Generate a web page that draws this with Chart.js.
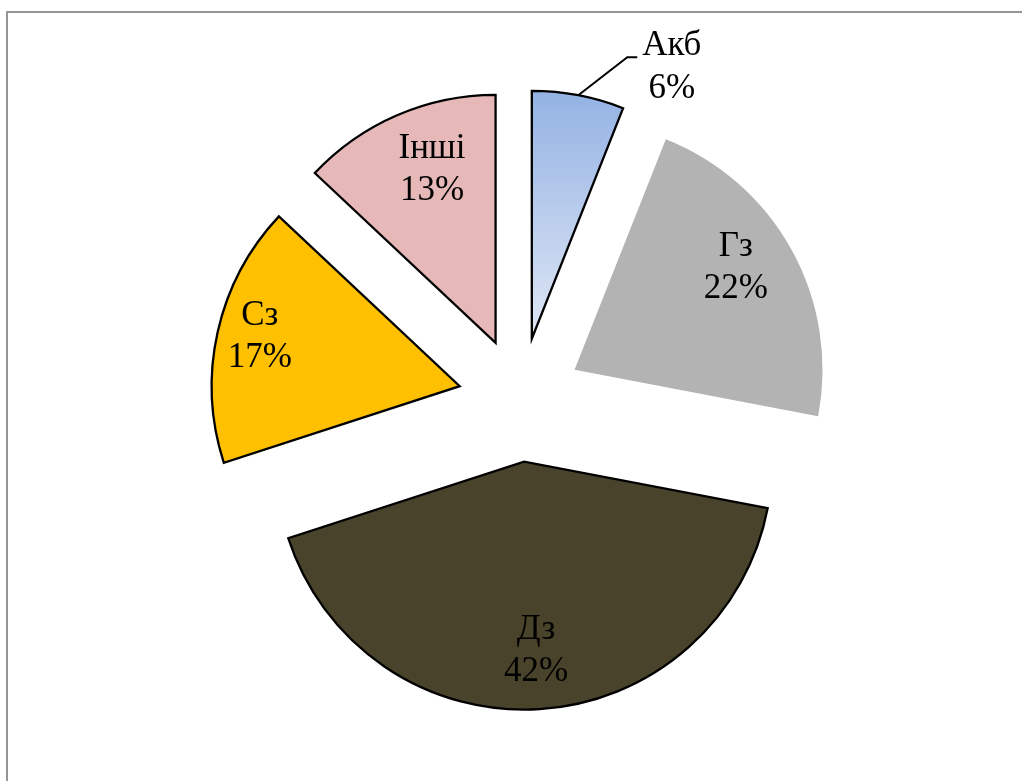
<!DOCTYPE html>
<html lang="uk">
<head>
<meta charset="utf-8">
<title>Структура</title>
<script src="https://cdn.jsdelivr.net/npm/chart.js@4.4.1/dist/chart.umd.min.js"></script>
<style>
  html, body { margin: 0; padding: 0; background: #fff; overflow: hidden; }
  #wrap { position: relative; width: 1022px; height: 781px; }
  #frame { position: absolute; left: 6px; top: 11px; width: 1100px; height: 900px;
           border: 2px solid #959595; box-sizing: border-box; pointer-events: none; }
  canvas { position: absolute; left: 0; top: 0; }
</style>
</head>
<body>
<div id="wrap">
  <canvas id="c" width="1022" height="781"></canvas>
  <div id="frame"></div>
</div>
<script>
// Categories and their shares, in percent
const categories = ['Акб', 'Гз', 'Дз', 'Сз', 'Інші'];
const shares = [6, 22, 42, 17, 13];

// Fill colours per slice (first slice gets a vertical gradient)
const fillColors = ['#9ab6e4', '#b3b3b3', '#4a432b', '#ffc000', '#e6b9b8'];
const gradientStops = ['#93b2e3', '#dfe7f5'];
const borderWidths = [2.3, 0, 2.3, 2.3, 2.3];

const RADIUS = 248;     // pie radius, px
const EXPLODE = 62;     // distance each slice is pulled out, px
const FONT = '35px "Liberation Serif", "Times New Roman", serif';

// Label placement: fraction of the radius and fraction across the slice angle
const labelPlacement = [
  { outside: true, elbow: [49, -38], tail: 10 },
  { r: 0.77, t: 0.455 },
  { r: 0.765, t: 0.5 },
  { r: 0.83, t: 0.52 },
  { r: 0.745, t: 0.57 }
];

const total = shares.reduce((a, b) => a + b, 0);
const pctText = v => Math.round(v / total * 100) + '%';

function explodeVector(arc) {
  const mid = (arc.startAngle + arc.endAngle) / 2;
  return { dx: Math.cos(mid) * EXPLODE, dy: Math.sin(mid) * EXPLODE, mid };
}

// Moves each arc outward along its mid-angle while the dataset is painted
const explodePlugin = {
  id: 'explode',
  beforeDatasetDraw(chart, args) {
    args.meta.data.forEach(arc => {
      const v = explodeVector(arc);
      arc._home = { x: arc.x, y: arc.y };
      arc.x += v.dx;
      arc.y += v.dy;
    });
  },
  afterDatasetDraw(chart, args) {
    args.meta.data.forEach(arc => {
      if (arc._home) { arc.x = arc._home.x; arc.y = arc._home.y; delete arc._home; }
    });
  }
};

// Category name and percentage for every slice
const sliceLabels = {
  id: 'sliceLabels',
  afterDatasetsDraw(chart) {
    const ctx = chart.ctx;
    const meta = chart.getDatasetMeta(0);
    ctx.save();
    ctx.font = FONT;
    ctx.fillStyle = '#000';
    ctx.textAlign = 'center';
    ctx.textBaseline = 'middle';
    meta.data.forEach((arc, i) => {
      const v = explodeVector(arc);
      const vx = arc.x + v.dx, vy = arc.y + v.dy;
      const R = arc.outerRadius;
      const p = labelPlacement[i];
      const name = categories[i];
      const pct = pctText(shares[i]);
      if (p.outside) {
        const sx = vx + Math.cos(v.mid) * R, sy = vy + Math.sin(v.mid) * R;
        const ex = sx + p.elbow[0], ey = sy + p.elbow[1];
        const tx = ex + p.tail;
        ctx.beginPath();
        ctx.strokeStyle = '#000';
        ctx.lineWidth = 2;
        ctx.lineJoin = 'miter';
        ctx.moveTo(sx, sy);
        ctx.lineTo(ex, ey);
        ctx.lineTo(tx, ey);
        ctx.stroke();
        const cx = tx + 34.5;
        ctx.fillText(name, cx, ey - 11);
        ctx.fillText(pct, cx, ey + 32);
      } else {
        const a = arc.startAngle + p.t * (arc.endAngle - arc.startAngle);
        const x = vx + Math.cos(a) * R * p.r;
        const y = vy + Math.sin(a) * R * p.r;
        ctx.fillText(name, x, y - 21);
        ctx.fillText(pct, x, y + 21);
      }
    });
    ctx.restore();
  }
};

function sliceFill(context) {
  const i = context.dataIndex;
  const chart = context.chart;
  if (i !== 0 || !chart.chartArea) return fillColors[i];
  const area = chart.chartArea;
  const cy = (area.top + area.bottom) / 2;
  const g = chart.ctx.createLinearGradient(0, cy - EXPLODE - RADIUS, 0, cy - EXPLODE);
  g.addColorStop(0, gradientStops[0]);
  g.addColorStop(1, gradientStops[1]);
  return g;
}

new Chart(document.getElementById('c'), {
  type: 'pie',
  data: {
    labels: categories,
    datasets: [{
      data: shares,
      backgroundColor: sliceFill,
      borderColor: '#000',
      borderWidth: borderWidths,
      borderJoinStyle: 'miter'
    }]
  },
  options: {
    responsive: false,
    animation: false,
    radius: RADIUS,
    layout: { padding: { left: 18.4, top: 18.4, right: 0, bottom: 0 } },
    plugins: {
      legend: { display: false },
      tooltip: { enabled: false }
    },
    events: []
  },
  plugins: [explodePlugin, sliceLabels]
});
</script>
</body>
</html>
